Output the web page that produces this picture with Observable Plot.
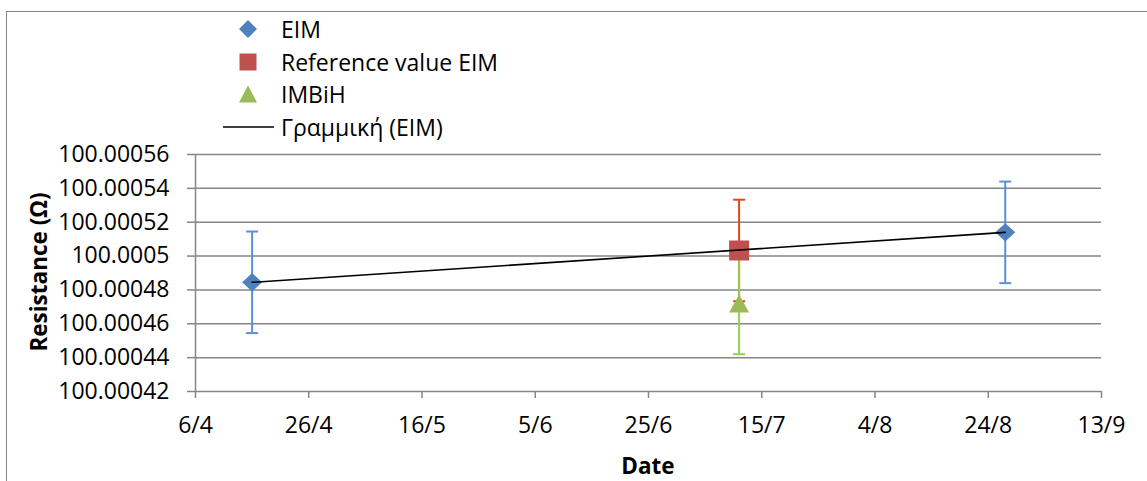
<!DOCTYPE html>
<html><head><meta charset="utf-8">
<script src="https://cdn.jsdelivr.net/npm/d3@7"></script>
<script src="https://cdn.jsdelivr.net/npm/@observablehq/plot@0.6"></script>
<style>
body{margin:0;background:#fff;font-family:"Open Sans",sans-serif;color:#000}
#wrap{position:relative;width:1147px;height:481px;overflow:hidden;background:#fff}
#frame{position:absolute;left:6px;top:11px;width:1300px;height:700px;border:1.5px solid #868686;box-sizing:border-box}
#chart{position:absolute;left:0;top:0}
#legend{position:absolute;left:223px;top:13px;font-size:23px}
.row{height:32.6px;display:flex;align-items:center;white-space:nowrap}
.row svg{display:block;margin-right:7px}
#ytitle{position:absolute;left:38px;top:272px;transform:translate(-50%,-50%) rotate(-90deg);font-weight:bold;font-size:22.5px;white-space:nowrap}
#xtitle{position:absolute;left:648px;top:465px;transform:translate(-50%,-50%);font-weight:bold;font-size:22.5px;white-space:nowrap}
</style>
</head><body>
<div id="wrap">
  <div id="frame"></div>
  <div id="chart"></div>
  <div id="legend"></div>
  <div id="ytitle"></div>
  <div id="xtitle"></div>
</div>
<script>
// ---- data ----
const seriesNames = ["EIM", "Reference value EIM", "IMBiH", "Γραμμική (EIM)"];
const eimDates = ["2015-04-16", "2015-08-27"];
const eimValues = [100.0004845, 100.000514];
const eimErrors = [0.00003, 0.00003];
const refDates = ["2015-07-11"];
const refValues = [100.0005033];
const refErrors = [0.00003];
const imbihDates = ["2015-07-11"];
const imbihValues = [100.000472];
const imbihErrors = [0.00003];
const xTickDates = ["2015-04-06","2015-04-26","2015-05-16","2015-06-05","2015-06-25","2015-07-15","2015-08-04","2015-08-24","2015-09-13"];
const xTickLabels = ["6/4","26/4","16/5","5/6","25/6","15/7","4/8","24/8","13/9"];
const yTicks = [100.00042,100.00044,100.00046,100.00048,100.0005,100.00052,100.00054,100.00056];
const yTickLabels = ["100.00042","100.00044","100.00046","100.00048","100.0005","100.00052","100.00054","100.00056"];
const xTitle = "Date";
const yTitle = "Resistance (Ω)";

// ---- build ----
const parse = s => new Date(s + "T00:00:00Z");
const rows = (dates, values, errors) => dates.map((d, i) => ({date: parse(d), value: values[i], lo: values[i] - errors[i], hi: values[i] + errors[i]}));
const eim = rows(eimDates, eimValues, eimErrors);
const ref = rows(refDates, refValues, refErrors);
const imbih = rows(imbihDates, imbihValues, imbihErrors);
const xTicks = xTickDates.map(parse);
const xLabel = new Map(xTicks.map((d, i) => [+d, xTickLabels[i]]));
const yLabel = new Map(yTicks.map((v, i) => [v, yTickLabels[i]]));

const C = {
  eim: "#4F81BD", eimErr: "#5B8FD6",
  ref: "#C0504D", refErr: "#E0481E",
  imb: "#9BBB59", imbErr: "#92D050",
  grid: "#868686"
};

const rad = size => Math.sqrt(size / Math.PI);
const capSym = {draw(c, s){ const r = rad(s); c.moveTo(-r, 0); c.lineTo(r, 0); }};
const diamondSym = {draw(c, s){ const r = rad(s); c.moveTo(0, -r*0.92); c.lineTo(r, 0); c.lineTo(0, r*0.92); c.lineTo(-r, 0); c.closePath(); }};
const squareSym = {draw(c, s){ const r = rad(s); c.rect(-r, -r, 2*r, 2*r); }};
const triSym = {draw(c, s){ const r = rad(s); const h = r*0.9; c.moveTo(0, -h); c.lineTo(r, h); c.lineTo(-r, h); c.closePath(); }};

function errMarks(data, color) {
  return [
    Plot.ruleX(data, {x: "date", y1: "lo", y2: "hi", stroke: color, strokeWidth: 2}),
    Plot.dot(data, {x: "date", y: "lo", symbol: capSym, r: 6, stroke: color, strokeWidth: 2, fill: "none"}),
    Plot.dot(data, {x: "date", y: "hi", symbol: capSym, r: 6, stroke: color, strokeWidth: 2, fill: "none"})
  ];
}

const chart = Plot.plot({
  width: 1147, height: 481,
  marginLeft: 195, marginRight: 46, marginTop: 154, marginBottom: 90,
  style: {fontFamily: "Open Sans", fontSize: "23px", background: "transparent", color: "#000", overflow: "visible"},
  x: {type: "utc", domain: [xTicks[0], xTicks[xTicks.length - 1]]},
  y: {domain: [yTicks[0], yTicks[yTicks.length - 1]]},
  marks: [
    Plot.gridY(yTicks, {stroke: C.grid, strokeOpacity: 1, strokeWidth: 1.5}),
    Plot.ruleX([xTicks[0]], {stroke: C.grid, strokeWidth: 1.5}),
    Plot.axisY(yTicks, {tickSize: 8, tickPadding: 18, tickFormat: d => yLabel.get(d), stroke: C.grid, strokeWidth: 1.5, fill: "#000", label: null}),
    Plot.axisX(xTicks, {tickSize: 7, tickPadding: 18, tickFormat: d => xLabel.get(+d), stroke: C.grid, strokeWidth: 1.5, fill: "#000", label: null}),
    ...errMarks(eim, C.eimErr),
    ...errMarks(ref, C.refErr),
    ...errMarks(imbih, C.imbErr),
    Plot.dot(eim, {x: "date", y: "value", symbol: diamondSym, r: 10, fill: C.eim}),
    Plot.dot(ref, {x: "date", y: "value", symbol: squareSym, r: 10, fill: C.ref}),
    Plot.dot(imbih, {x: "date", y: "value", symbol: triSym, r: 10, fill: C.imb}),
    Plot.linearRegressionY(eim, {x: "date", y: "value", stroke: "#000", strokeWidth: 1.6, ci: 0})
  ]
});
document.getElementById("chart").appendChild(chart);

// ---- legend ----
const legendIcons = [
  `<polygon points="25,1 34,10 25,19 16,10" fill="${C.eim}"/>`,
  `<rect x="16.5" y="1.5" width="17" height="17" fill="${C.ref}"/>`,
  `<polygon points="25,1.5 34,18.5 16,18.5" fill="${C.imb}"/>`,
  `<line x1="0" y1="10" x2="51" y2="10" stroke="#000" stroke-width="1.6"/>`
];
const legend = document.getElementById("legend");
seriesNames.forEach((name, i) => {
  const row = document.createElement("div");
  row.className = "row";
  row.innerHTML = `<svg width="51" height="20">${legendIcons[i]}</svg><span>${name}</span>`;
  legend.appendChild(row);
});
document.getElementById("xtitle").textContent = xTitle;
document.getElementById("ytitle").textContent = yTitle;
</script>
</body></html>
